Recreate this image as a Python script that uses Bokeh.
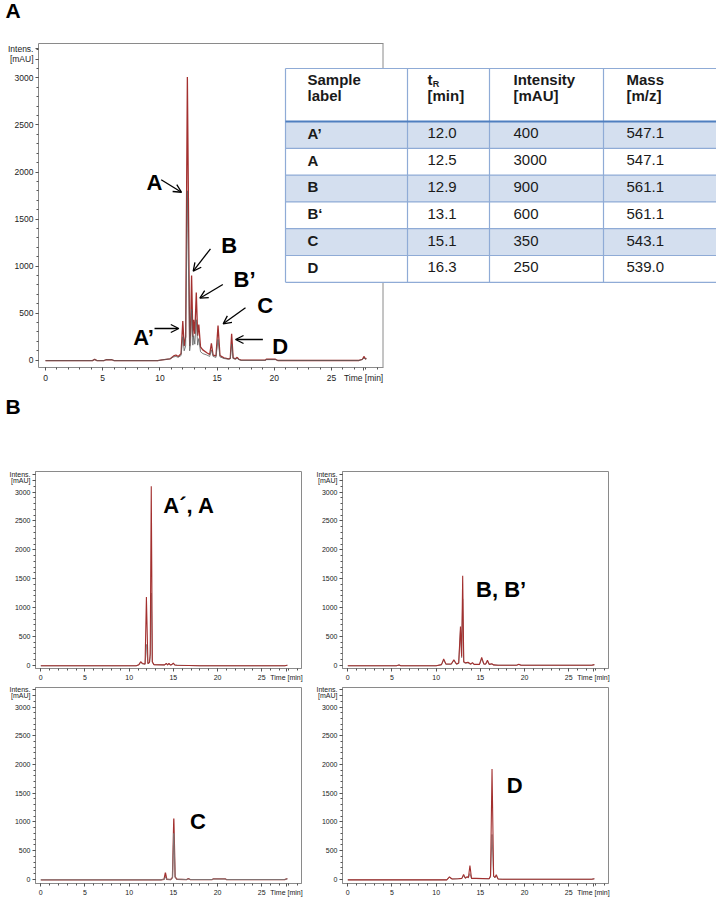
from bokeh.plotting import figure
from bokeh.models import Range1d, LinearAxis, FixedTicker, Arrow, OpenHead
from bokeh.layouts import column, row
from bokeh.embed import file_html
from bokeh.resources import INLINE
from bokeh.core.properties import value

FONT = "Liberation Sans"
RED = "#a3302f"
GRAY = "#5e5e5e"
FRAME = "#8a8a8a"
TICK = "#555555"

# ---------------- data ----------------
# Panel A chromatogram (time [min], intensity [mAU])
main_time = [0.0, 4.1, 4.3, 4.5, 5.1, 5.3, 5.8, 6.0, 9.8, 10.2, 10.9, 11.2, 11.4, 11.6, 11.85,
             12.0, 12.12, 12.25, 12.4, 12.6, 12.68, 12.77, 12.88, 12.95, 13.05, 13.18, 13.3,
             13.4, 13.55, 13.75, 14.1, 14.35, 14.5, 14.65, 14.9, 15.08, 15.25, 15.6, 16.0,
             16.15, 16.27, 16.4, 16.6, 16.75, 16.9, 17.1, 19.2, 19.3, 20.1, 20.3, 27.4, 27.7,
             27.85, 27.95, 28.05]
main_red = [-5, -5, 8, -5, -5, 5, 5, -5, -5, 3, 15, 45, 55, 40, 70,
            415, 150, 250, 3010, 150, 300, 900, 250, 430, 280, 720, 260,
            380, 140, 110, 80, 60, 180, 55, 45, 368, 50, 25, 15,
            20, 280, 25, 15, 30, 10, 0, 0, 10, 10, -3, -3, 10,
            40, 15, 20]
main_gray = [-5, -5, 8, -5, -5, 5, 5, -5, -5, 3, 15, 35, 40, 30, 50,
             250, 100, 150, 1800, 100, 180, 540, 160, 260, 170, 430, 160,
             230, 90, 70, 55, 40, 110, 40, 30, 220, 35, 18, 10,
             14, 170, 18, 10, 20, 6, -2, -2, 6, 6, -3, -3, 6,
             25, 10, 15]

# Panel B chromatograms
tl_time = [0.0, 10.8, 11.1, 11.3, 11.5, 11.8, 11.95, 12.12, 12.3, 12.38, 12.5, 12.62, 12.8,
           14.0, 14.2, 14.35, 14.5, 14.65, 14.8, 15.0, 15.15, 15.4, 18.0, 27.6, 27.9]
tl_red = [-10, -10, 10, 60, 30, 20, 1180, 30, 50, 200, 3100, 60, 10,
          5, 30, 5, 30, 5, 10, 35, 5, 0, -10, -10, 0]
tl_gray = [-10, -10, 8, 50, 25, 15, 360, 25, 40, 150, 1250, 50, 8,
           4, 25, 4, 25, 4, 8, 28, 4, 0, -10, -10, 0]

tr_time = [0.0, 5.5, 5.8, 6.0, 10.0, 10.6, 10.85, 11.1, 11.7, 12.0, 12.3, 12.55, 12.75, 12.88,
           13.0, 13.12, 13.3, 13.6, 13.9, 14.1, 14.3, 14.9, 15.15, 15.4, 15.6, 15.8, 16.0,
           16.3, 16.5, 17.0, 19.1, 19.35, 19.6, 27.6, 27.9]
tr_red = [-10, -10, 5, -10, -10, 10, 110, 20, 20, 95, 20, 40, 670, 150,
          1550, 60, 40, 50, 20, 45, 15, 15, 135, 20, 20, 85, 15,
          25, 5, 0, 0, 15, 0, 0, 10]
tr_gray = [-10, -10, 5, -10, -10, 8, 90, 15, 15, 80, 15, 30, 600, 130,
           1150, 50, 35, 40, 15, 35, 12, 12, 110, 15, 15, 70, 12,
           20, 4, 0, 0, 12, 0, 0, 8]

bl_time = [0.0, 13.6, 13.95, 14.1, 14.25, 14.7, 14.9, 15.05, 15.2, 15.4, 16.5, 16.7, 16.9,
           19.4, 19.5, 20.9, 21.0, 27.6, 27.9]
bl_red = [-10, -10, 0, 115, 0, -5, 30, 1060, 40, 0, -5, 10, -5, -5, 5, 5, -5, -5, 10]
bl_gray = [-10, -10, 0, 40, 0, -5, 25, 800, 30, 0, -5, 8, -5, -5, 4, 4, -5, -5, 8]

br_time = [0.0, 11.2, 11.5, 11.8, 12.5, 12.9, 13.1, 13.3, 13.5, 13.65, 13.82, 14.0, 14.5,
           16.0, 16.15, 16.32, 16.5, 16.65, 16.8, 17.0, 17.5, 27.6, 27.9]
br_red = [-10, -10, 40, 5, 10, 15, 85, 20, 45, 30, 240, 15, 15,
          10, 60, 1920, 60, 30, 80, 5, 0, 0, 10]
br_gray = [-10, -10, 35, 5, 10, 12, 60, 15, 35, 25, 100, 12, 12,
           8, 40, 780, 45, 25, 60, 4, 0, 0, 8]

# Axis ticks
y_tick_values = [0, 500, 1000, 1500, 2000, 2500, 3000]
x_tick_values = [0, 5, 10, 15, 20, 25]
y_minor = list(range(0, 3400, 100))
x_minor = list(range(0, 30))
Y_UNIT_POS, Y_NAME_POS, TIME_POS = 3200, 3310, 27.8

# Table
table_labels = ["A\u2019", "A", "B", "B\u2018", "C", "D"]
table_tr = ["12.0", "12.5", "12.9", "13.1", "15.1", "16.3"]
table_int = ["400", "3000", "900", "600", "350", "250"]
table_mass = ["547.1", "547.1", "561.1", "561.1", "543.1", "539.0"]

# Peak annotations (panel A)
peak_names = ["A", "B", "B\u2019", "C", "A\u2019", "D"]
peak_label_t = [9.53, 16.06, 17.4, 19.21, 8.57, 20.52]
peak_label_i = [1888, 1224, 861, 576, 236, 148]
arrow_t0 = [10.11, 14.42, 15.5, 17.48, 9.53, 19.0]
arrow_i0 = [1917, 1184, 804, 557, 337, 220]
arrow_t1 = [11.89, 12.91, 13.49, 15.53, 11.65, 16.61]
arrow_i1 = [1785, 946, 659, 387, 337, 220]


def style_chart(p, fs, xbounds=None):
    p.grid.visible = False
    xa, ya = p.xaxis[0], p.yaxis[0]
    xa.ticker = FixedTicker(ticks=x_tick_values + [TIME_POS], minor_ticks=x_minor)
    xa.major_label_overrides = {TIME_POS: "Time [min]"}
    ya.ticker = FixedTicker(ticks=y_tick_values + [Y_UNIT_POS, Y_NAME_POS], minor_ticks=y_minor)
    ya.major_label_overrides = {Y_UNIT_POS: "[mAU]", Y_NAME_POS: "Intens."}
    for ax in (xa, ya):
        ax.axis_line_color = FRAME
        ax.major_tick_line_color = TICK
        ax.minor_tick_line_color = TICK
        ax.major_tick_out = 3
        ax.major_tick_in = 0
        ax.minor_tick_out = 2
        ax.minor_tick_in = 0
        ax.major_label_text_font = FONT
        ax.major_label_text_font_size = fs
        ax.major_label_text_color = "#222222"
        ax.major_label_standoff = 2
    if xbounds is not None:
        xa.bounds = xbounds


def label_fig(txt, w, h, x, ymid):
    f = figure(width=w, height=h, x_range=Range1d(0, w), y_range=Range1d(h, 0),
               toolbar_location=None, output_backend="svg", x_axis_type=None, y_axis_type=None,
               min_border=0)
    f.outline_line_color = None
    f.grid.visible = False
    f.text(x=[x], y=[ymid], text=[txt], text_font=value(FONT), text_font_style="bold",
           text_font_size="21px", text_baseline="middle", text_align="left", text_color="black")
    return f


# ---------------- Panel A ----------------
labA = label_fig("A", 716, 25, 5, 9.5)

pA = figure(width=716, height=363, x_range=Range1d(-0.612, 58.65), y_range=Range1d(-77.6, 3365.6),
            toolbar_location=None, output_backend="svg",
            min_border_left=38, min_border_right=0, min_border_top=18, min_border_bottom=21)
pA.outline_line_color = None
style_chart(pA, "8.5px", xbounds=(-0.612, 29.5))
top_axis = LinearAxis(ticker=FixedTicker(ticks=[]), bounds=(-0.612, 29.5), axis_line_color=FRAME,
                      major_tick_out=0, major_tick_in=0, minor_tick_out=0, minor_tick_in=0,
                      major_label_text_font_size="0px", major_label_standoff=0)
pA.add_layout(top_axis, "above")
pA.segment(x0=[29.5], y0=[-77.6], x1=[29.5], y1=[3365.6], line_color=FRAME, line_width=1)

pA.line(main_time, main_red, line_color=RED, line_width=1.3)
pA.line(main_time, main_gray, line_color=GRAY, line_width=0.8)

pA.text(x=peak_label_t, y=peak_label_i, text=peak_names, text_font=value(FONT),
        text_font_style="bold", text_font_size="22px", text_align="center",
        text_baseline="middle", text_color="black")
for xs, ys, xe, ye in zip(arrow_t0, arrow_i0, arrow_t1, arrow_i1):
    pA.add_layout(Arrow(end=OpenHead(size=8, line_width=1.3, line_color="black"),
                        x_start=xs, y_start=ys, x_end=xe, y_end=ye,
                        line_color="black", line_width=1.3))

# Table drawn in page-pixel coordinates of panel A
pA.extra_x_ranges = {"px": Range1d(38, 716)}
pA.extra_y_ranges = {"py": Range1d(367, 43)}
T_LEFT, T_RIGHT = 285, 720
col_x = [285, 407, 489, 603, 720]
HDR_TOP, HDR_BOT, ROW_H = 68, 121, 26.8
row_tops = [HDR_BOT + i * ROW_H for i in range(len(table_labels))]
T_BOT = row_tops[-1] + ROW_H
LINE = "#8fabd6"
kw = dict(x_range_name="px", y_range_name="py")
pA.quad(left=[T_LEFT], right=[T_RIGHT], top=[HDR_TOP], bottom=[T_BOT],
        fill_color="white", line_color=None, **kw)
shade = [i for i in range(len(table_labels)) if i % 2 == 0]
pA.quad(left=[T_LEFT] * len(shade), right=[T_RIGHT] * len(shade),
        top=[row_tops[i] for i in shade], bottom=[row_tops[i] + ROW_H for i in shade],
        fill_color="#d4dfef", line_color=None, **kw)
hl = [HDR_TOP] + row_tops[1:] + [T_BOT]
pA.segment(x0=[T_LEFT] * len(hl), x1=[T_RIGHT] * len(hl), y0=hl, y1=hl,
           line_color=LINE, line_width=1.2, **kw)
pA.segment(x0=col_x, x1=col_x, y0=[HDR_TOP] * len(col_x), y1=[T_BOT] * len(col_x),
           line_color=LINE, line_width=1.2, **kw)
pA.segment(x0=[T_LEFT], x1=[T_RIGHT], y0=[HDR_BOT], y1=[HDR_BOT],
           line_color="#4f7fbf", line_width=2.2, **kw)

text_x = [307, 427, 513, 626]
HDR_L1, HDR_L2 = 78.8, 95.3
hdr_kw = dict(text_font=value(FONT), text_font_style="bold", text_font_size="15px",
              text_baseline="middle", text_align="left", text_color="#1a1a1a", **kw)
pA.text(x=[text_x[0], text_x[0], text_x[1], text_x[1], text_x[2], text_x[2], text_x[3], text_x[3]],
        y=[HDR_L1, HDR_L2, HDR_L1, HDR_L2, HDR_L1, HDR_L2, HDR_L1, HDR_L2],
        text=["Sample", "label", "t", "[min]", "Intensity", "[mAU]", "Mass", "[m/z]"], **hdr_kw)
pA.text(x=[text_x[1] + 5.2], y=[HDR_L1 + 4.6], text=["R"], text_font=value(FONT),
        text_font_style="bold", text_font_size="9px", text_baseline="middle",
        text_align="left", text_color="#1a1a1a", **kw)
mid_y = [t + 11.8 for t in row_tops]
pA.text(x=[text_x[0]] * len(table_labels), y=mid_y, text=table_labels, **hdr_kw)
cell_kw = dict(text_font=value(FONT), text_font_size="15px", text_baseline="middle",
               text_align="left", text_color="#1a1a1a", **kw)
for cx, vals in zip(text_x[1:], (table_tr, table_int, table_mass)):
    pA.text(x=[cx] * len(vals), y=mid_y, text=vals, **cell_kw)


# ---------------- Panel B ----------------
labB = label_fig("B", 716, 32, 5, 18)


def small_fig(w, h, bl, br, bt, bb, yr, times, red, gray, red_on_top, label, lab_t, lab_i):
    p = figure(width=w, height=h, x_range=Range1d(-0.6, 29.5), y_range=Range1d(*yr),
               toolbar_location=None, output_backend="svg",
               min_border_left=bl, min_border_right=br, min_border_top=bt, min_border_bottom=bb)
    p.outline_line_color = FRAME
    style_chart(p, "7px")
    if red_on_top:
        p.line(times, gray, line_color="#8c8c8c", line_width=1.0)
        p.line(times, red, line_color=RED, line_width=1.1)
    else:
        p.line(times, red, line_color=RED, line_width=1.3)
        p.line(times, gray, line_color="#7d7d7d", line_width=0.9)
    p.text(x=[lab_t], y=[lab_i], text=[label], text_font=value(FONT), text_font_style="bold",
           text_font_size="22px", text_align="left", text_baseline="middle", text_color="black")
    return p


ROW1_Y = (-57, 3357)
ROW2_Y = (-74, 3340)
pTL = small_fig(309, 263, 35, 8, 51, 14, ROW1_Y, tl_time, tl_red, tl_gray, True,
                "A\u00b4, A", 13.86, 2771)
pTR = small_fig(311, 263, 33, 12, 51, 14, ROW1_Y, tr_time, tr_red, tr_gray, True,
                "B, B\u2019", 14.52, 1305)
pBL = small_fig(309, 215, 35, 8, 4, 13, ROW2_Y, bl_time, bl_red, bl_gray, False,
                "C", 16.87, 998)
pBR = small_fig(311, 215, 33, 12, 4, 13, ROW2_Y, br_time, br_red, br_gray, True,
                "D", 17.99, 1633)

layout = column(row(labA), pA, row(labB), row(pTL, pTR), row(pBL, pBR))
open("out.html", "w").write(file_html(layout, INLINE))
